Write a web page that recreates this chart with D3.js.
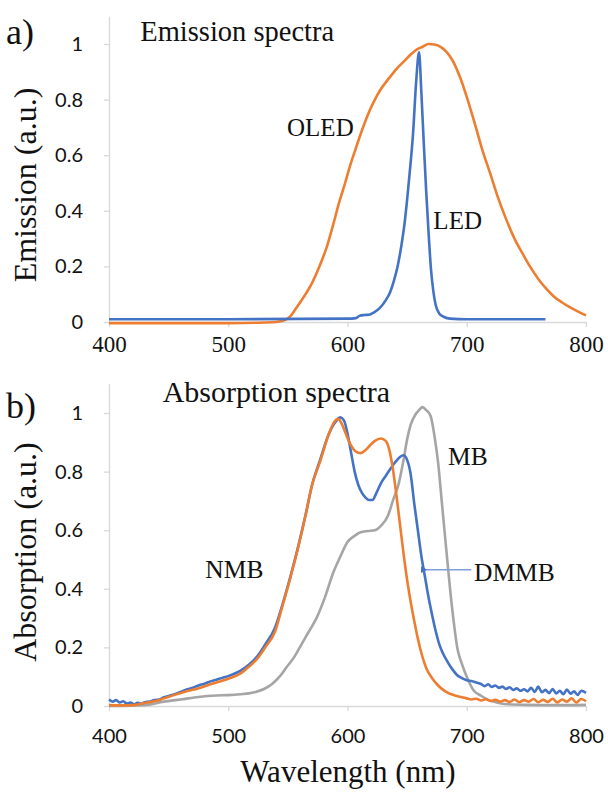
<!DOCTYPE html>
<html>
<head>
<meta charset="utf-8">
<script src="https://cdnjs.cloudflare.com/ajax/libs/d3/7.8.5/d3.min.js"></script>
<style>
  body { margin: 0; background: #fff; }
  svg { display: block; }
</style>
</head>
<body>
<svg id="chart" width="608" height="792"></svg>
<script>
// shared axis ticks
const wavelengthTicks = [400, 500, 600, 700, 800];
const valueTicks = [0, 0.2, 0.4, 0.6, 0.8, 1];

// a) emission spectra, [wavelength nm, emission a.u.]
const oled = [
  [400, -0.004], [450, -0.004], [500, -0.004], [530, -0.002], [540, 0.0],
  [547, 0.006], [552, 0.02], [557, 0.05], [563, 0.088], [570, 0.138],
  [576, 0.195], [583, 0.275], [588, 0.35], [593, 0.43], [598, 0.5],
  [602, 0.56], [607, 0.625], [612, 0.688], [617, 0.745], [622, 0.792],
  [628, 0.838], [635, 0.878], [641, 0.91], [648, 0.94], [653, 0.962],
  [658, 0.98], [663, 0.99], [668, 1.0], [673, 0.998], [678, 0.99],
  [681, 0.98], [686, 0.955], [690, 0.925], [694, 0.885], [700, 0.81],
  [707, 0.71], [713, 0.62], [720, 0.53], [726, 0.45], [733, 0.37],
  [740, 0.3], [747, 0.245], [753, 0.2], [760, 0.155], [767, 0.118],
  [773, 0.092], [780, 0.07], [786, 0.054], [793, 0.038], [800, 0.024]
];
const led = [
  [400, 0.01], [500, 0.01], [600, 0.012], [607, 0.014], [610, 0.022],
  [614, 0.025], [618, 0.026], [622, 0.034], [627, 0.05], [632, 0.078],
  [636, 0.11], [639, 0.15], [642, 0.2], [645, 0.27], [648, 0.36],
  [650, 0.44], [652, 0.53], [655, 0.68], [657.5, 0.86], [660, 0.97],
  [662, 0.82], [664, 0.64], [666, 0.47], [668, 0.32], [670, 0.19],
  [672, 0.11], [674, 0.06], [677, 0.03], [681, 0.018], [686, 0.012],
  [700, 0.01], [766, 0.01]
];

// b) absorption spectra, [wavelength nm, absorption a.u.]
const mb = [
  [400, 0.0], [430, 0.003], [446, 0.015], [460, 0.022], [475, 0.031],
  [490, 0.036], [500, 0.037], [510, 0.04], [523, 0.048], [530, 0.058],
  [537, 0.076], [543, 0.1], [549, 0.133], [555, 0.165], [560, 0.2],
  [567, 0.25], [574, 0.3], [581, 0.37], [588, 0.455], [594, 0.51],
  [600, 0.56], [605, 0.578], [611, 0.593], [617, 0.597], [623, 0.6],
  [628, 0.615], [634, 0.65], [638, 0.7], [643, 0.76], [647, 0.84],
  [650, 0.91], [653, 0.96], [657, 0.995], [660, 1.01], [663, 1.02],
  [666, 1.01], [669.7, 0.99], [673, 0.92], [676, 0.83], [679, 0.7],
  [682.7, 0.54], [686, 0.4], [689, 0.29], [692, 0.2], [695.7, 0.146],
  [700, 0.1], [705.5, 0.055], [712, 0.035], [718.5, 0.02], [725, 0.012],
  [731.6, 0.007], [750, 0.004], [775, 0.003], [800, 0.004]
];
const dmmb = [
  [400, 0.022], [403, 0.015], [406, 0.02], [409, 0.012], [412, 0.016],
  [415, 0.008], [418, 0.012], [421, 0.006], [424, 0.011], [427, 0.008],
  [430, 0.013], [434, 0.015], [438, 0.02], [442, 0.022], [446, 0.03],
  [450, 0.034], [455, 0.04], [460, 0.048], [465, 0.056], [470, 0.062],
  [475, 0.07], [480, 0.076], [485, 0.084], [490, 0.09], [495, 0.096],
  [500, 0.102], [505, 0.11], [510, 0.12], [517, 0.14], [524, 0.168],
  [531, 0.21], [539, 0.265], [545, 0.34], [552, 0.44], [559, 0.55],
  [565, 0.655], [570, 0.75], [577, 0.84], [584, 0.925], [590, 0.97],
  [594, 0.985], [597, 0.975], [600, 0.93], [603, 0.865], [606, 0.8],
  [609, 0.755], [612, 0.728], [615, 0.712], [618, 0.703], [621, 0.703],
  [624, 0.725], [628, 0.76], [632, 0.785], [636, 0.81], [640, 0.832],
  [644, 0.85], [647, 0.856], [650, 0.84], [653, 0.79], [656, 0.69],
  [659, 0.6], [662, 0.51], [665, 0.44], [668, 0.37], [671, 0.31],
  [674, 0.255], [677, 0.21], [680, 0.18], [684, 0.15], [688, 0.125],
  [692, 0.105], [696, 0.095], [700, 0.088], [704, 0.085], [708, 0.08],
  [712, 0.075], [715, 0.068], [718, 0.074], [721, 0.065], [724, 0.07],
  [727, 0.062], [730, 0.066], [733, 0.058], [736, 0.064], [739, 0.055],
  [742, 0.06], [745, 0.052], [748, 0.057], [751, 0.05], [754, 0.062],
  [757, 0.048], [760, 0.066], [763, 0.047], [766, 0.055], [769, 0.044],
  [772, 0.058], [775, 0.043], [778, 0.052], [781, 0.04], [784, 0.056],
  [787, 0.042], [790, 0.05], [793, 0.038], [796, 0.052], [800, 0.045]
];
const nmb = [
  [400, 0.003], [410, 0.002], [420, 0.003], [430, 0.01], [440, 0.018],
  [446, 0.026], [455, 0.038], [465, 0.05], [474.6, 0.06], [485, 0.074],
  [500, 0.093], [510, 0.11], [517, 0.133], [524, 0.16], [531, 0.2],
  [539.4, 0.256], [545, 0.335], [552, 0.436], [559, 0.548], [564.8, 0.65],
  [570, 0.75], [577.5, 0.84], [584.5, 0.93], [589, 0.97], [592, 0.98],
  [595, 0.965], [598, 0.935], [601, 0.905], [604, 0.882], [607, 0.868],
  [611, 0.863], [615, 0.873], [619, 0.89], [623, 0.905], [628, 0.913],
  [632, 0.905], [635, 0.875], [638, 0.81], [641, 0.72], [644, 0.62],
  [647, 0.52], [650, 0.43], [653, 0.355], [656, 0.29], [659, 0.23],
  [662, 0.18], [666, 0.13], [671, 0.095], [676, 0.07], [682, 0.05],
  [690, 0.036], [696, 0.03], [700, 0.026], [704, 0.022], [708, 0.025],
  [712, 0.019], [716, 0.023], [720, 0.017], [724, 0.021], [728, 0.015],
  [732, 0.02], [736, 0.014], [740, 0.022], [744, 0.013], [748, 0.02],
  [752, 0.015], [756, 0.024], [760, 0.013], [764, 0.021], [768, 0.014],
  [772, 0.025], [776, 0.012], [780, 0.022], [784, 0.015], [788, 0.026],
  [792, 0.012], [796, 0.024], [800, 0.016]
];

const ORANGE = '#ed7d31', BLUE = '#4472c4', GRAY = '#a5a5a5';
const AXIS = '#d9d9d9';
const serif = '"Liberation Serif", "DejaVu Serif", serif';
const sans = 'Lato, "Open Sans", sans-serif';

const svg = d3.select('#chart');
const x = d3.scaleLinear().domain([400, 800]).range([109, 586]);

svg.append('defs').append('marker')
  .attr('id', 'head')
  .attr('viewBox', '0 0 10 10')
  .attr('refX', 1).attr('refY', 5)
  .attr('markerWidth', 5).attr('markerHeight', 5)
  .attr('orient', 'auto-start-reverse')
  .append('path')
  .attr('d', 'M0,5 L10,0 L10,10 Z')
  .attr('fill', BLUE);

function fmtValue(d) {
  return (d === 0 || d === 1) ? String(d) : d3.format('.1f')(d);
}

function drawPanel(p) {
  const g = svg.append('g');
  // value scale runs a bit above 1 so the axis line extends past the top tick
  const y = d3.scaleLinear().domain([0, 1.1]).range([p.bottom, p.bottom - 1.1 * p.unit]);

  const yAxis = g.append('g')
    .attr('transform', `translate(${x.range()[0]},0)`)
    .call(d3.axisLeft(y).tickValues(valueTicks).tickFormat(fmtValue)
      .tickSize(5).tickSizeOuter(0).tickPadding(21));
  yAxis.selectAll('text')
    .attr('font-family', sans).attr('font-size', 20).attr('fill', '#111');

  const xAxis = g.append('g')
    .attr('transform', `translate(0,${p.bottom})`)
    .call(d3.axisBottom(x).tickValues(wavelengthTicks).tickFormat(d3.format('d'))
      .tickSize(5).tickSizeOuter(0).tickPadding(p.xPad));
  xAxis.selectAll('text')
    .attr('font-family', p.xFont).attr('font-size', p.xSize).attr('fill', '#111');

  g.selectAll('.domain, .tick line').attr('stroke', AXIS).attr('stroke-width', 1.3);

  const line = d3.line().x(d => x(d[0])).y(d => y(d[1])).curve(d3.curveMonotoneX);
  p.series.forEach(s => {
    g.append('path')
      .datum(s.data)
      .attr('d', line)
      .attr('fill', 'none')
      .attr('stroke', s.color)
      .attr('stroke-width', 2.6)
      .attr('stroke-linejoin', 'round');
  });

  p.labels.forEach(l => {
    g.append('text')
      .attr('x', x(l.nm)).attr('y', y(l.v))
      .attr('font-family', serif).attr('font-size', l.size)
      .attr('fill', '#111')
      .text(l.text);
  });
  return {g, y};
}

const a = drawPanel({
  bottom: 322, unit: 278,
  xFont: serif, xSize: 23, xPad: 9,
  series: [
    {data: oled, color: ORANGE},
    {data: led, color: BLUE}
  ],
  labels: [
    {text: 'Emission spectra', nm: 426.2, v: 1.012, size: 28.5},
    {text: 'OLED', nm: 549.3, v: 0.669, size: 25},
    {text: 'LED', nm: 672, v: 0.333, size: 25}
  ]
});

const b = drawPanel({
  bottom: 706, unit: 293,
  xFont: sans, xSize: 20, xPad: 18,
  series: [
    {data: mb, color: GRAY},
    {data: dmmb, color: BLUE},
    {data: nmb, color: ORANGE}
  ],
  labels: [
    {text: 'Absorption spectra', nm: 445, v: 1.037, size: 30},
    {text: 'NMB', nm: 480.8, v: 0.437, size: 25.5},
    {text: 'MB', nm: 684.3, v: 0.824, size: 25.5},
    {text: 'DMMB', nm: 706.1, v: 0.428, size: 25.5}
  ]
});

// arrow from the DMMB label to its curve
b.g.append('line')
  .attr('x1', x(703.8)).attr('y1', b.y(0.465))
  .attr('x2', x(666.5)).attr('y2', b.y(0.465))
  .attr('stroke', '#7f9fd8').attr('stroke-width', 1.4)
  .attr('marker-end', 'url(#head)');

// panel letters and axis titles
svg.append('text').attr('x', 6).attr('y', 44)
  .attr('font-family', serif).attr('font-size', 36).attr('fill', '#111').text('a)');
svg.append('text').attr('x', 6).attr('y', 418)
  .attr('font-family', serif).attr('font-size', 36).attr('fill', '#111').text('b)');

svg.append('text')
  .attr('transform', 'translate(36,185) rotate(-90)')
  .attr('text-anchor', 'middle')
  .attr('font-family', serif).attr('font-size', 32).attr('fill', '#111')
  .text('Emission (a.u.)');
svg.append('text')
  .attr('transform', 'translate(36,552) rotate(-90)')
  .attr('text-anchor', 'middle')
  .attr('font-family', serif).attr('font-size', 32).attr('fill', '#111')
  .text('Absorption (a.u.)');
svg.append('text')
  .attr('x', 348).attr('y', 782)
  .attr('text-anchor', 'middle')
  .attr('font-family', serif).attr('font-size', 31).attr('fill', '#111')
  .text('Wavelength (nm)');
</script>
</body>
</html>
